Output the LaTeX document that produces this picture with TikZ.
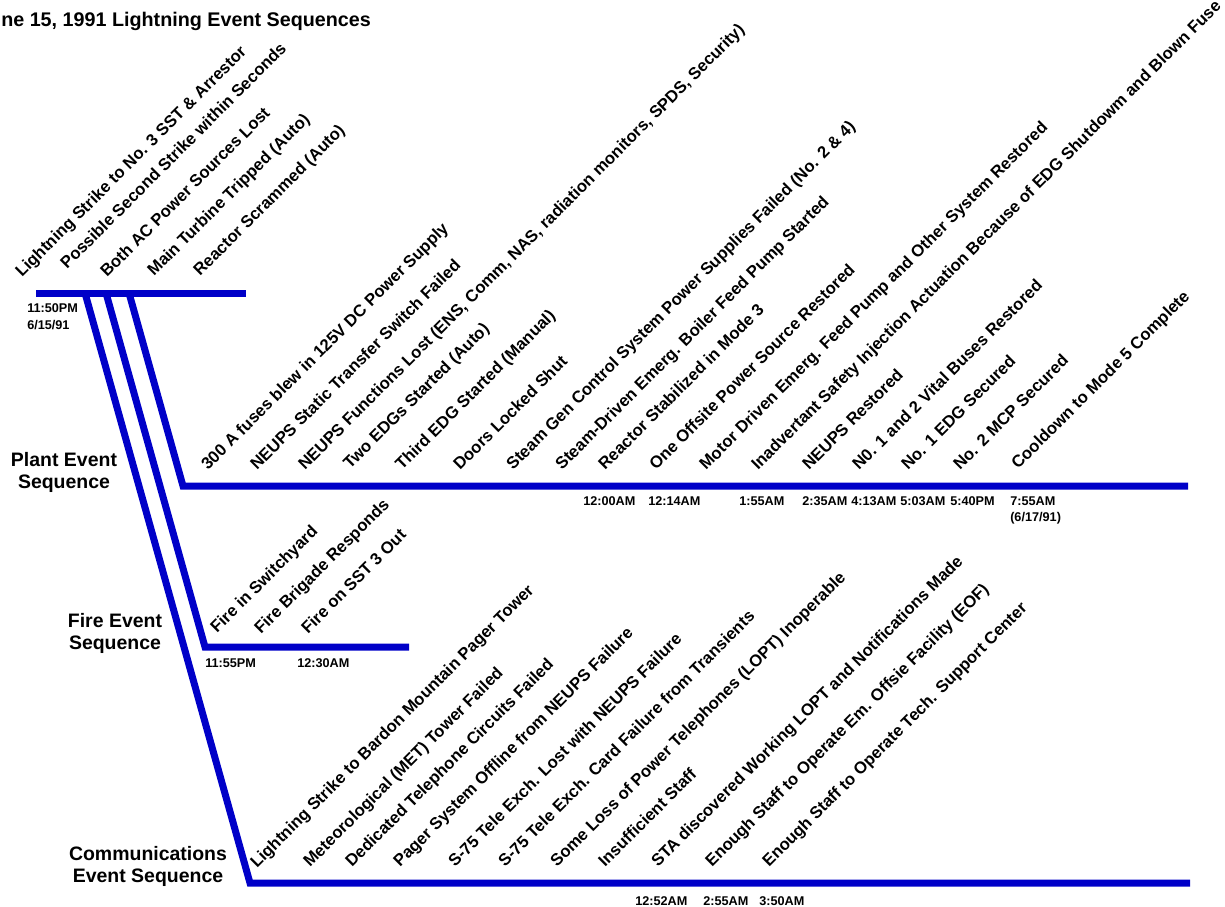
\documentclass[tikz,border=0pt]{standalone}
\usepackage{fontspec}
\setmainfont{Liberation Sans}
\definecolor{barblue}{RGB}{0,0,200}
\begin{document}
\begin{tikzpicture}[x=0.75pt,y=-0.75pt,
  bar/.style={line width=5.25pt, draw=barblue, line join=miter},
  ev/.style={rotate=45, anchor=base west, inner sep=0pt, font=\fontsize{12.5}{14}\selectfont\bfseries},
  tm/.style={anchor=base west, inner sep=0pt, font=\fontsize{9.5}{11}\selectfont\bfseries},
  seq/.style={align=center, inner sep=0pt, font=\fontsize{14.6}{16.5}\selectfont\bfseries},
  ttl/.style={anchor=base west, inner sep=0pt, font=\fontsize{14.8}{17}\selectfont\bfseries}]
\useasboundingbox (0,0) rectangle (1225,907);

% title
\node[ttl] (title) at (1,26) {ne 15, 1991 Lightning Event Sequences};

% skeleton coordinates
\coordinate (tl) at (36,293);
\coordinate (tr) at (246,293);
\coordinate (pA) at (129,293);
\coordinate (fA) at (106,293);
\coordinate (cA) at (85,293);
\coordinate (pc) at (183,486);
\coordinate (pe) at (1188,486);
\coordinate (fc) at (205,647);
\coordinate (fe) at (409,647);
\coordinate (cc) at (250,883);
\coordinate (ce) at (1190,883);

\draw[bar] (tl) -- (tr);
\draw[bar] (pA) -- (pc) -- (pe);
\draw[bar] (fA) -- (fc) -- (fe);
\draw[bar] (cA) -- (cc) -- (ce);

% sequence names
\node[seq] (plant) at (64,472) {Plant Event\\Sequence};
\node[seq] (fire) at (115,633) {Fire Event\\Sequence};
\node[seq] (comm) at (148,866) {Communications\\Event Sequence};

% initial events
\node[ev] (i1) at (22,278) {Lightning Strike to No. 3 SST \& Arrestor};
\node[ev] (i2) at (67,270) {Possible Second Strike within Seconds};
\node[ev] (i3) at (107,278) {Both AC Power Sources Lost};
\node[ev] (i4) at (154,277) {Main Turbine Tripped (Auto)};
\node[ev] (i5) at (200,277) {Reactor Scrammed (Auto)};
\node[tm] (t0a) at (27,312) {11:50PM};
\node[tm] (t0b) at (27,329) {6/15/91};

% plant events
\node[ev] (p1) at (208,471) {300 A fuses blew in 125V DC Power Supply};
\node[ev] (p2) at (257,471) {NEUPS Static Transfer Switch Failed};
\node[ev] (p3) at (305,471) {NEUPS Functions Lost (ENS, Comm, NAS, radiation monitors, SPDS, Security)};
\node[ev] (p4) at (350,470) {Two EDGs Started (Auto)};
\node[ev] (p5) at (402,471) {Third EDG Started (Manual)};
\node[ev] (p6) at (460,471) {Doors Locked Shut};
\node[ev] (p7) at (513,471) {Steam Gen Control System Power Supplies Failed (No. 2 \& 4)};
\node[ev] (p8) at (562,471) {Steam-Driven Emerg. Boiler Feed Pump Started};
\node[ev] (p9) at (605,471) {Reactor Stabilized in Mode 3};
\node[ev] (p10) at (656,471) {One Offsite Power Source Restored};
\node[ev] (p11) at (706,471) {Motor Driven Emerg. Feed Pump and Other System Restored};
\node[ev] (p12) at (758,471) {Inadvertant Safety Injection Actuation Because of EDG Shutdowm and Blown Fuse};
\node[ev] (p13) at (809,471) {NEUPS Restored};
\node[ev] (p14) at (859,471) {N0. 1 and 2 Vital Buses Restored};
\node[ev] (p15) at (908,471) {No. 1 EDG Secured};
\node[ev] (p16) at (960,471) {No. 2 MCP Secured};
\node[ev] (p17) at (1018,470) {Cooldown to Mode 5 Complete};

\node[tm] (pt1) at (583,505) {12:00AM};
\node[tm] (pt2) at (648,505) {12:14AM};
\node[tm] (pt3) at (739,505) {1:55AM};
\node[tm] (pt4) at (802,505) {2:35AM};
\node[tm] (pt5) at (851,505) {4:13AM};
\node[tm] (pt6) at (900,505) {5:03AM};
\node[tm] (pt7) at (950,505) {5:40PM};
\node[tm] (pt8) at (1010,505) {7:55AM};
\node[tm] (pt9) at (1010,521) {(6/17/91)};

% fire events
\node[ev] (f1) at (217,634) {Fire in Switchyard};
\node[ev] (f2) at (261,635) {Fire Brigade Responds};
\node[ev] (f3) at (308,635) {Fire on SST 3 Out};
\node[tm] (ft1) at (205,667) {11:55PM};
\node[tm] (ft2) at (297,667) {12:30AM};

% communications events
\node[ev] (c1) at (257,869) {Lightning Strike to Bardon Mountain Pager Tower};
\node[ev] (c2) at (310,868) {Meteorological (MET) Tower Failed};
\node[ev] (c3) at (352,868) {Dedicated Telephone Circuits Failed};
\node[ev] (c4) at (400,868) {Pager System Offline from NEUPS Failure};
\node[ev] (c5) at (455,868) {S-75 Tele Exch. Lost with NEUPS Failure};
\node[ev] (c6) at (505,868) {S-75 Tele Exch. Card Failure from Transients};
\node[ev] (c7) at (557,868) {Some Loss of Power Telephones (LOPT) Inoperable};
\node[ev] (c8) at (605,868) {Insufficient Staff};
\node[ev] (c9) at (658,868) {STA discovered Working LOPT and Notifications Made};
\node[ev] (c10) at (712,868) {Enough Staff to Operate Em. Offsie Facility (EOF)};
\node[ev] (c11) at (769,868) {Enough Staff to Operate Tech. Support Center};

\node[tm] (ct1) at (635,905) {12:52AM};
\node[tm] (ct2) at (703,905) {2:55AM};
\node[tm] (ct3) at (759,905) {3:50AM};
\end{tikzpicture}
\end{document}
